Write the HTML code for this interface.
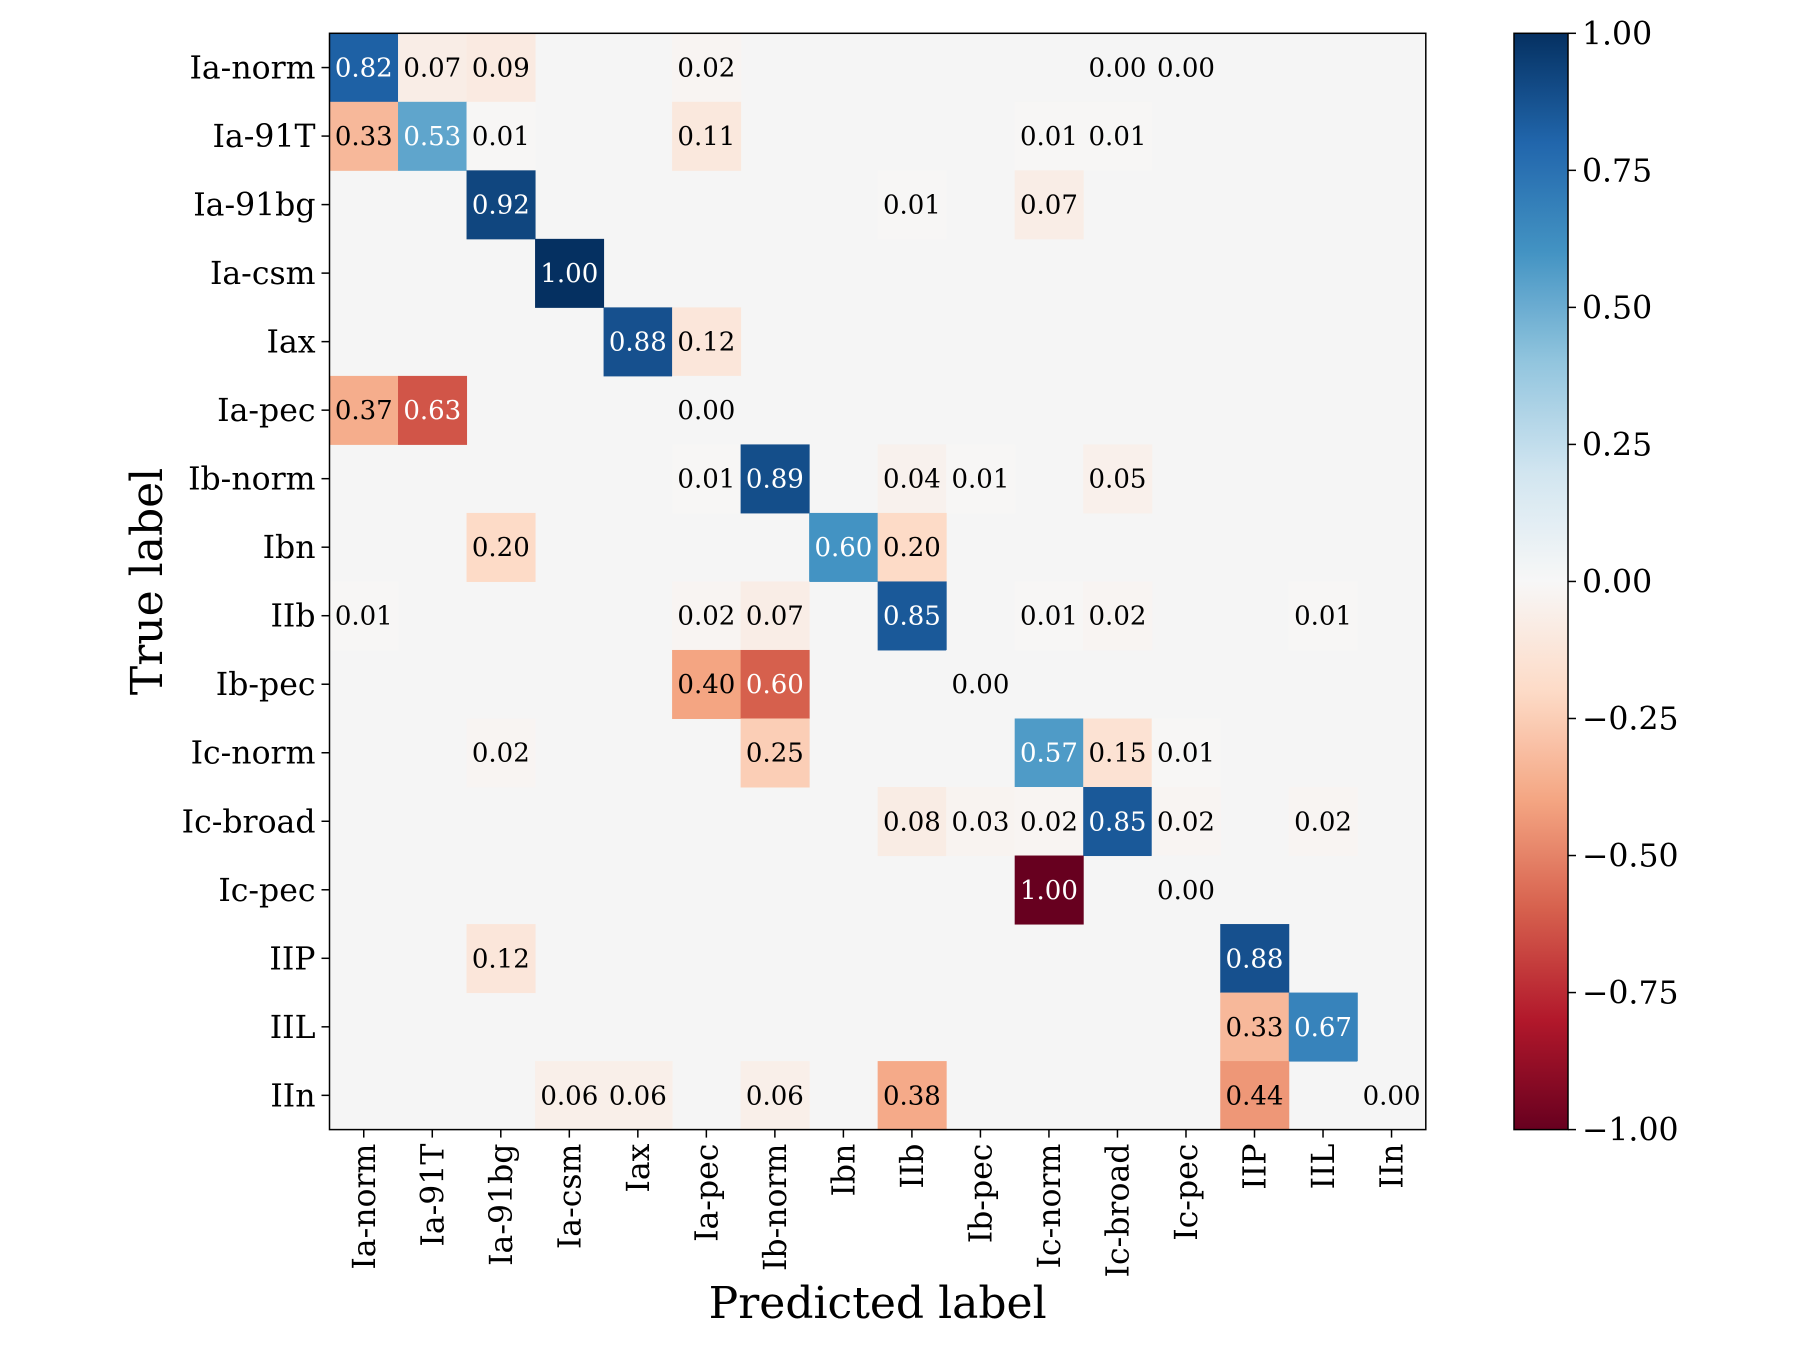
<!DOCTYPE html>
<html><head><meta charset="utf-8"><style>
html,body{margin:0;padding:0;background:#fff;}
svg{display:block;font-family:"DejaVu Serif","Liberation Serif",serif;}
</style></head><body>
<svg id="chart" width="1800" height="1350" viewBox="0 0 1800 1350" xmlns="http://www.w3.org/2000/svg">
<defs><linearGradient id="cbgrad" x1="0" y1="1" x2="0" y2="0"></linearGradient></defs>
<g id="cells"></g>
<g id="axes"></g>
<g id="cbar"></g>
</svg>
<script>
const labels = ["Ia-norm","Ia-91T","Ia-91bg","Ia-csm","Iax","Ia-pec","Ib-norm","Ibn","IIb","Ib-pec","Ic-norm","Ic-broad","Ic-pec","IIP","IIL","IIn"];
const _ = null;
const values = [
 [0.82,0.07,0.09,_,_,0.02,_,_,_,_,_,0.00,0.00,_,_,_],
 [0.33,0.53,0.01,_,_,0.11,_,_,_,_,0.01,0.01,_,_,_,_],
 [_,_,0.92,_,_,_,_,_,0.01,_,0.07,_,_,_,_,_],
 [_,_,_,1.00,_,_,_,_,_,_,_,_,_,_,_,_],
 [_,_,_,_,0.88,0.12,_,_,_,_,_,_,_,_,_,_],
 [0.37,0.63,_,_,_,0.00,_,_,_,_,_,_,_,_,_,_],
 [_,_,_,_,_,0.01,0.89,_,0.04,0.01,_,0.05,_,_,_,_],
 [_,_,0.20,_,_,_,_,0.60,0.20,_,_,_,_,_,_,_],
 [0.01,_,_,_,_,0.02,0.07,_,0.85,_,0.01,0.02,_,_,0.01,_],
 [_,_,_,_,_,0.40,0.60,_,_,0.00,_,_,_,_,_,_],
 [_,_,0.02,_,_,_,0.25,_,_,_,0.57,0.15,0.01,_,_,_],
 [_,_,_,_,_,_,_,_,0.08,0.03,0.02,0.85,0.02,_,0.02,_],
 [_,_,_,_,_,_,_,_,_,_,1.00,_,0.00,_,_,_],
 [_,_,0.12,_,_,_,_,_,_,_,_,_,_,0.88,_,_],
 [_,_,_,_,_,_,_,_,_,_,_,_,_,0.33,0.67,_],
 [_,_,_,0.06,0.06,_,0.06,_,0.38,_,_,_,_,0.44,_,0.00]
];
const cbTicks = [1.00,0.75,0.50,0.25,0.00,-0.25,-0.50,-0.75,-1.00];

const NS="http://www.w3.org/2000/svg";
const L=329.5,R=1425.8,T=33.3,B=1129.6,n=labels.length;
const cw=(R-L)/n,ch=(B-T)/n;
const xPos=i=>L+i*cw, yPos=i=>T+i*ch;
const stops=["#67001f","#b2182b","#d6604d","#f4a582","#fddbc7","#f7f7f7","#d1e5f0","#92c5de","#4393c3","#2166ac","#053061"];
function hex(h){return [1,3,5].map(i=>parseInt(h.substr(i,2),16));}
function cmap(v){let t=(v+1)/2*10;t=Math.max(0,Math.min(10,t));const i=Math.min(9,Math.floor(t)),f=t-i;
 const a=hex(stops[i]),b=hex(stops[i+1]);return "rgb("+a.map((x,k)=>Math.round(x+(b[k]-x)*f)).join(",")+")";}
function el(tag,attrs,parent,text){const e=document.createElementNS(NS,tag);for(const k in attrs)e.setAttribute(k,attrs[k]);if(text!==undefined)e.textContent=text;parent.appendChild(e);return e;}

const cells=document.getElementById('cells'),axes=document.getElementById('axes'),cbar=document.getElementById('cbar');
el('rect',{x:L,y:T,width:R-L,height:B-T,fill:'#f5f5f5'},cells);
for(let r=0;r<n;r++)for(let c=0;c<n;c++){
 const v=values[r][c]; if(v===null)continue;
 const s=(r===c)?v:-v;
 const rc=el('rect',{x:xPos(c),y:yPos(r),width:cw+0.5,height:ch+0.5,fill:(v===0?'#f5f5f5':cmap(s))},cells);
 
 
 const tx=el('text',{x:xPos(c)+cw/2,y:yPos(r)+ch/2+9,'text-anchor':'middle','font-size':26,fill:(v>0.5?'#fff':'#000')},cells,v.toFixed(2));
 
 
}
el('rect',{x:L,y:T,width:R-L,height:B-T,fill:'none',stroke:'#000','stroke-width':1.5},axes);
labels.forEach((lab,i)=>{
 const y=yPos(i)+ch/2;
 el('line',{x1:L-8,x2:L,y1:y,y2:y,stroke:'#000','stroke-width':1.5},axes);
 const t=el('text',{x:L-14,y:y+11,'text-anchor':'end','font-size':31.5},axes,lab);
 
 
 const x=xPos(i)+cw/2;
 el('line',{x1:x,x2:x,y1:B,y2:B+8,stroke:'#000','stroke-width':1.5},axes);
 const t2=el('text',{x:0,y:0,'text-anchor':'end','font-size':31.5,transform:'translate('+(x+11)+','+(B+14)+') rotate(-90)'},axes,lab);
 
 
});
const xl=el('text',{x:(L+R)/2,y:1318,'text-anchor':'middle','font-size':44},axes,'Predicted label');

const yl=el('text',{x:0,y:0,'text-anchor':'middle','font-size':44,transform:'translate(162,'+((T+B)/2)+') rotate(-90)'},axes,'True label');


const g=document.getElementById('cbgrad');
for(let k=0;k<=40;k++){const v=-1+k/20;el('stop',{offset:(k/40),'stop-color':cmap(v)},g);}
const CL=1514,CR=1568,cy=v=>B-(v+1)/2*(B-T);
el('rect',{x:CL,y:T,width:CR-CL,height:B-T,fill:'url(#cbgrad)',stroke:'#000','stroke-width':1.5},cbar);
cbTicks.forEach(v=>{const y=cy(v);
 el('line',{x1:CR,x2:CR+8,y1:y,y2:y,stroke:'#000','stroke-width':1.5},cbar);
 const t=el('text',{x:CR+14,y:y+11,'font-size':31.5},cbar,(v<0?'\u2212':'')+Math.abs(v).toFixed(2));
 
});
</script>
</body></html>
